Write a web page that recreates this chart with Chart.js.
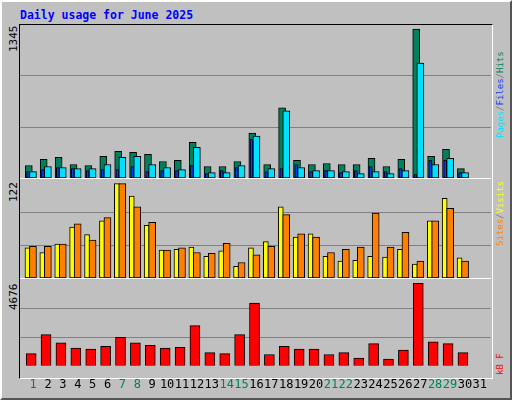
<!DOCTYPE html>
<html>
<head>
<meta charset="utf-8">
<script src="https://cdn.jsdelivr.net/npm/chart.js@4"></script>
<style>
  body { margin: 0; background: #fff; }
  #frame { position: absolute; left: 0; top: 0; width: 508px; height: 396px; background: #c0c0c0;
    border-top: 2px solid #fff; border-left: 2px solid #fff; border-right: 2px solid #555; border-bottom: 2px solid #555; }
  .panel { position: absolute; left: 20px; width: 471px; }
  .lbl { position: absolute; font: 9px "DejaVu Sans Mono", monospace; white-space: nowrap;
    transform-origin: left top; transform: rotate(-90deg); }
  #title { position: absolute; left: 20px; top: 8px; font: bold 11.5px "DejaVu Sans Mono", monospace; color: #0000ff; }
</style>
</head>
<body>
<div id="frame"></div>
<div id="title">Daily usage for June 2025</div>
<div style="position:absolute;left:19px;top:24px;width:472px;height:353px;border-top:1px solid #000;border-left:1px solid #000;border-right:1px solid #fff;border-bottom:1px solid #fff"></div>
<div class="panel" style="top:25px;height:153px"><canvas id="c1"></canvas></div>
<div class="panel" style="top:178px;height:1px;background:#fff"></div>
<div class="panel" style="top:180px;height:98px"><canvas id="c2"></canvas></div>
<div class="panel" style="top:278px;height:1px;background:#fff"></div>
<div class="panel" style="top:280px;height:116px"><canvas id="c3"></canvas></div>
<div class="lbl" style="left:7px;top:52px;color:#000;font-size:11px">1345</div>
<div class="lbl" style="left:7px;top:202px;color:#000;font-size:11px">122</div>
<div class="lbl" style="left:7px;top:310px;color:#000;font-size:11px">4676</div>
<div class="lbl" style="left:495px;top:138px"><span style="color:#00e0ff">Pages</span><span style="color:#777">/</span><span style="color:#0040ff">Files</span><span style="color:#777">/</span><span style="color:#00805c">Hits</span></div>
<div class="lbl" style="left:495px;top:246px"><span style="color:#ff8000">Sites</span><span style="color:#777">/</span><span style="color:#ffff00">Visits</span></div>
<div class="lbl" style="left:495px;top:375px;color:#ff0000">kB F</div>
<script>
const days = Array.from({length: 31}, (_, i) => i + 1)
const weekendDays = [1, 7, 8, 14, 15, 21, 22, 28, 29]

const hits  = [113,168,186,122,113,195,241,232,213,149,159,323,104,104,149,406,122,634,159,122,131,122,122,177,104,168,1345,195,259,85,0]
const files = [58,104,95,85,85,122,186,195,122,95,76,278,49,49,113,378,85,607,95,67,67,58,40,58,40,67,1037,122,177,49,0]
const pages = [58,76,95,85,67,76,76,104,58,67,67,113,40,67,95,351,58,85,122,58,67,49,67,104,58,85,30,159,159,49,0]
const visits = [39,33,44,66,56,74,122,106,68,36,37,40,28,35,15,39,47,92,53,57,28,22,23,28,27,37,18,74,103,26,0]
const sites  = [41,41,44,70,49,78,122,92,72,36,39,33,32,45,20,30,41,82,57,53,33,37,40,84,40,59,22,74,90,22,0]
const kbytes = [683,1758,1297,990,939,1092,1604,1297,1144,990,1041,2270,734,683,1758,3550,632,1092,939,939,632,734,427,1246,376,888,4676,1348,1246,734,0]

function pts(values, shift) {
  return values.map((v, i) => ({x: days[i] + shift, y: v}))
}
function bars(values, shift, color, width, order) {
  return { data: pts(values, shift), backgroundColor: color, borderColor: '#000', borderWidth: 1,
    borderSkipped: false, barThickness: width, order: order, grouped: false }
}

function makeChart(id, datasets, yMax, showDays) {
  return new Chart(document.getElementById(id), {
    type: 'bar',
    data: { datasets: datasets },
    options: {
      animation: false, responsive: true, maintainAspectRatio: false,
      layout: { padding: 0 },
      plugins: { legend: { display: false }, tooltip: { enabled: false } },
      scales: {
        x: {
          type: 'linear', min: 0.12, max: 31.73, offset: false, display: showDays,
          grid: { display: false }, border: { display: false },
          afterBuildTicks: s => { s.ticks = days.map(d => ({value: d})) },
          ticks: {
            autoSkip: false, maxRotation: 0, padding: 4,
            font: { family: 'DejaVu Sans Mono', size: 12 },
            color: c => weekendDays.includes(c.tick.value) ? '#00805c' : '#000'
          }
        },
        y: {
          min: 0, max: yMax,
          afterBuildTicks: s => { s.ticks = [1, 2].map(k => ({value: yMax * k / 3})) },
          ticks: { display: false },
          grid: { color: '#808080', lineWidth: 1, drawTicks: false },
          border: { display: false }
        }
      }
    }
  })
}

makeChart('c1', [
  bars(hits, -0.29, '#00805c', 7, 3),
  bars(pages, -0.34, '#0040ff', 3, 2),
  bars(files, -0.01, '#00e0ff', 7, 1)
], 1345 * 151 / 147, false)

makeChart('c2', [
  bars(visits, -0.38, '#ffff00', 5, 2),
  bars(sites, -0.01, '#ff8000', 7, 1)
], 122 * 96 / 92.4, false)

makeChart('c3', [
  bars(kbytes, -0.13, '#ff0000', 10, 1)
], 4676 * 95 / 91.4, true)
</script>
</body>
</html>
